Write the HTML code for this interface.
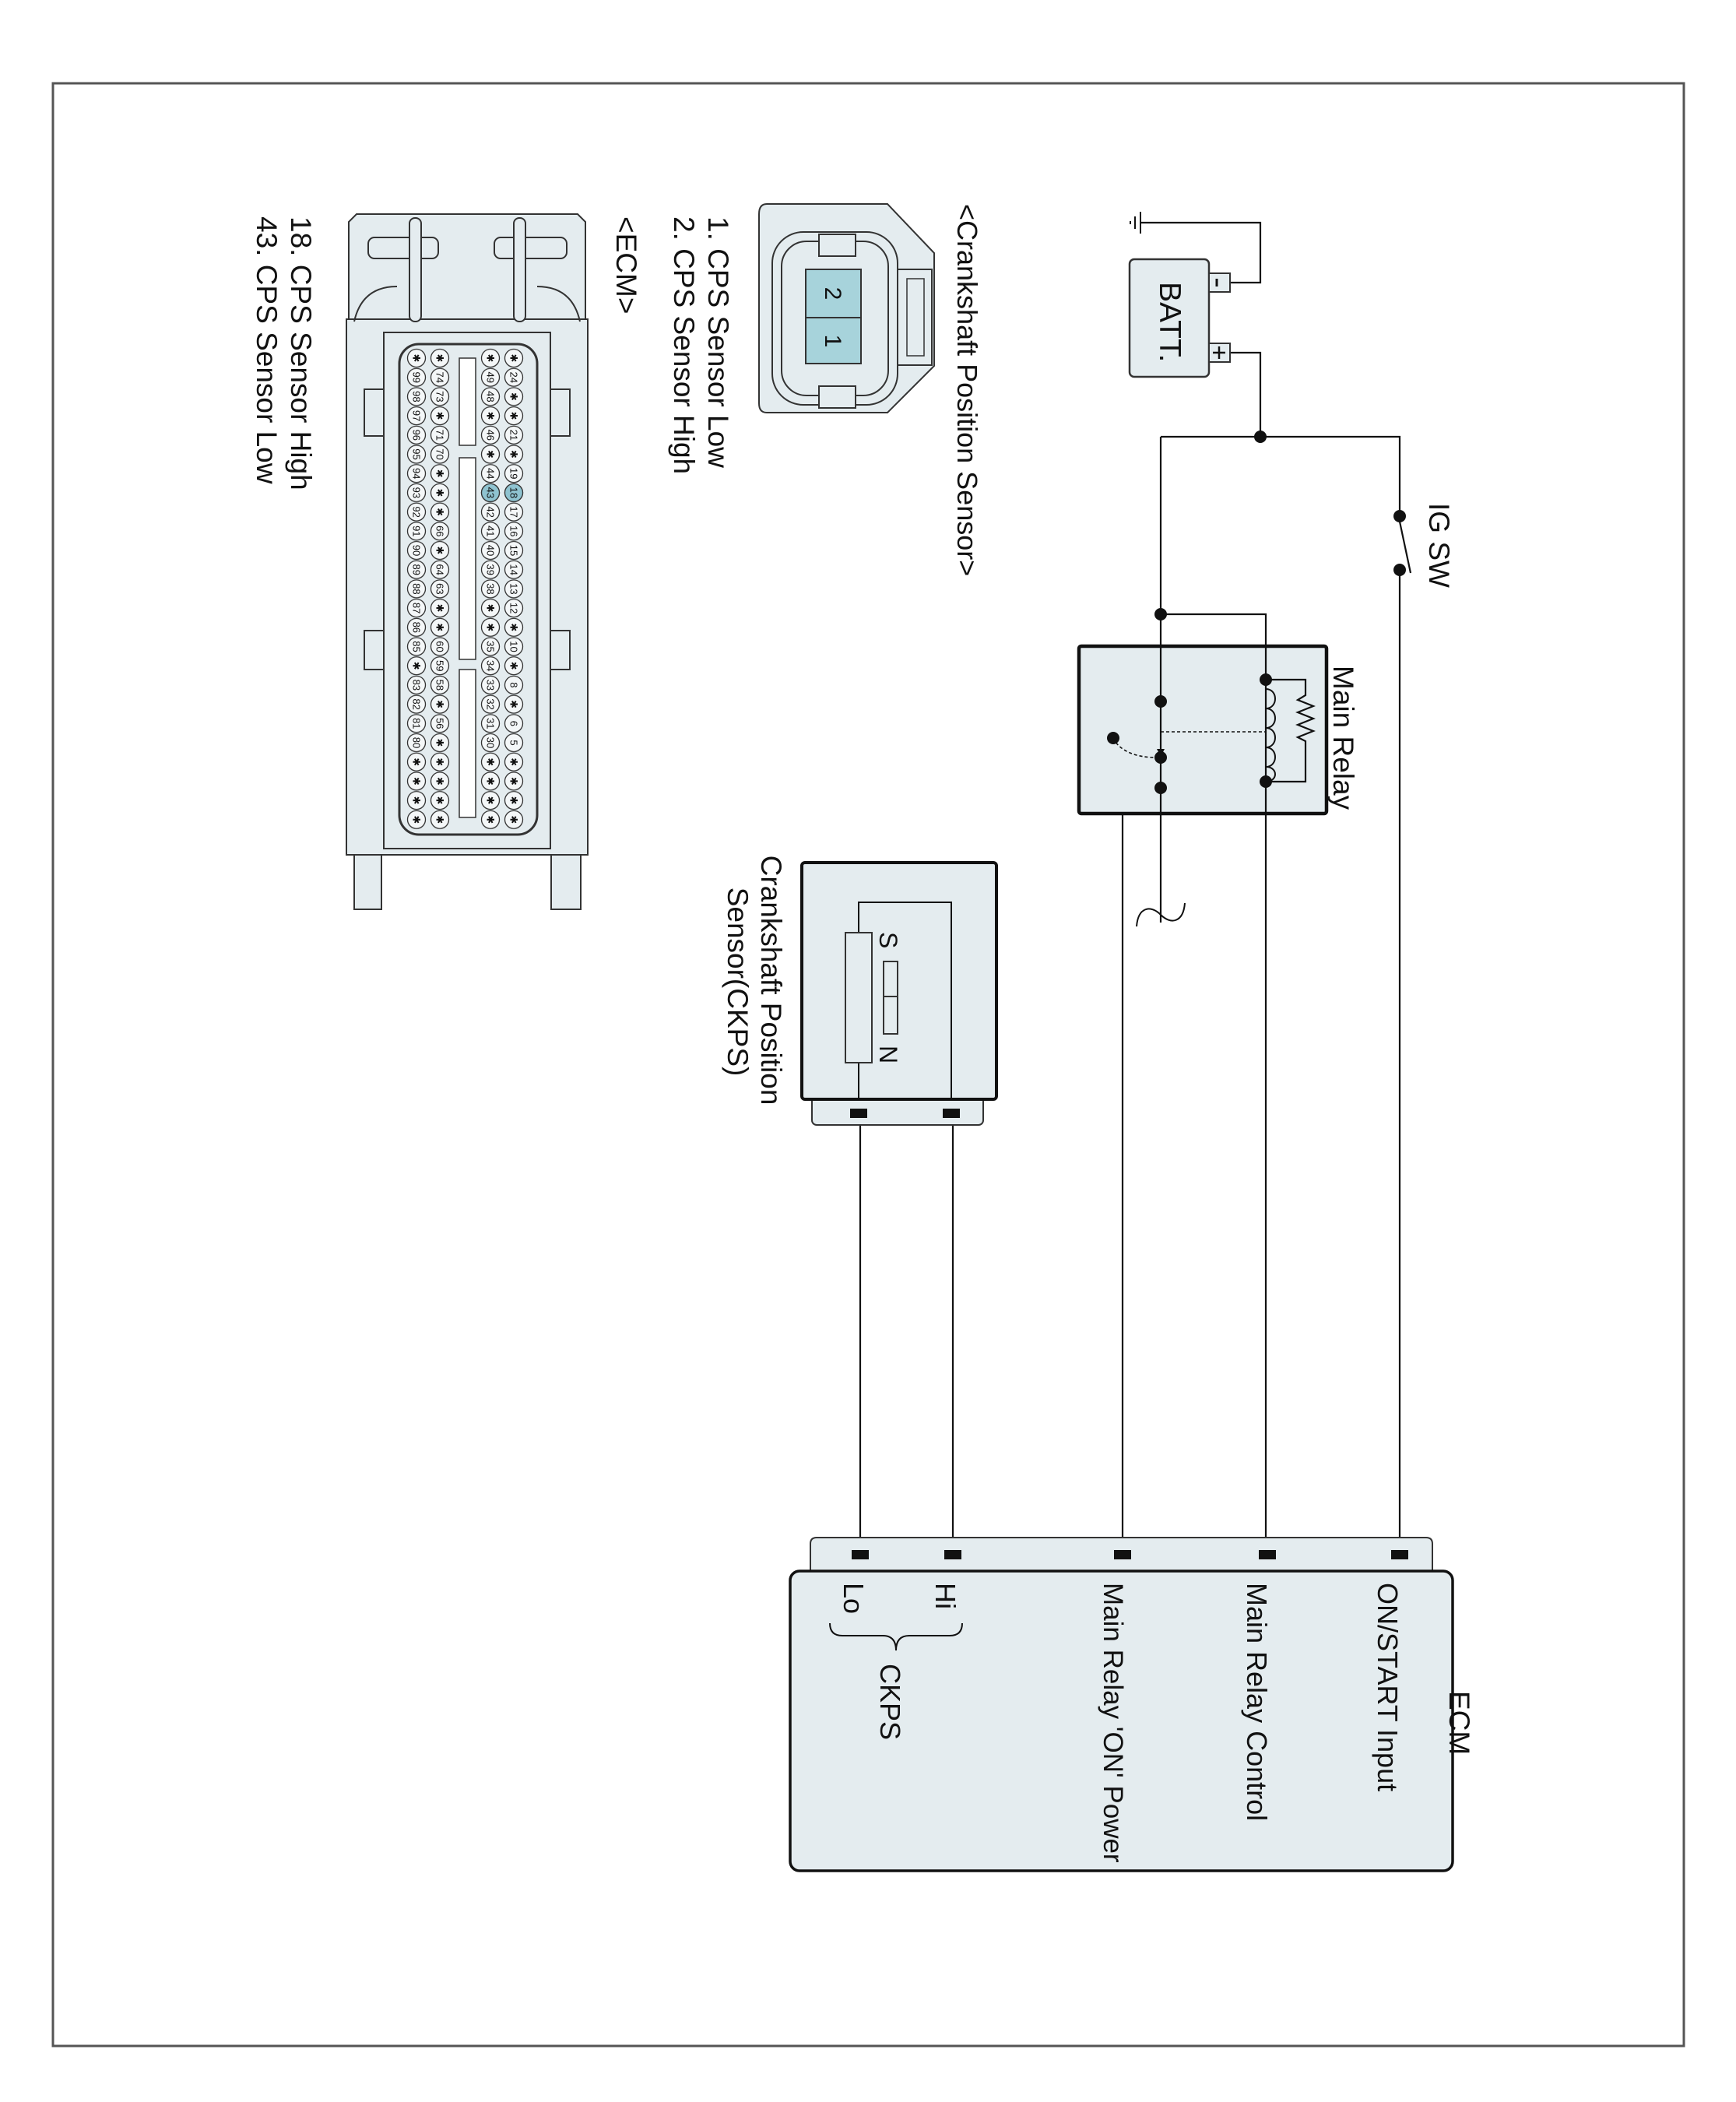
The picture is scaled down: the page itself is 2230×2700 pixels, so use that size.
<!DOCTYPE html>
<html><head><meta charset="utf-8"><style>
html,body{margin:0;padding:0;background:#fff}
svg{display:block}
text{font-family:"Liberation Sans",Arial,sans-serif;fill:#111}
.pn text{font-size:13px;text-anchor:middle;dominant-baseline:central}
</style></head><body>
<svg width="2230" height="2700" viewBox="0 0 2230 2700" xmlns="http://www.w3.org/2000/svg">
<defs>
<pattern id="p1" x="515" y="447.65" width="40" height="24.7" patternUnits="userSpaceOnUse"><circle cx="20" cy="12.35" r="11.5" fill="#f4f7f8" stroke="#333" stroke-width="1.3"/></pattern>
<pattern id="p2" x="545" y="447.65" width="40" height="24.7" patternUnits="userSpaceOnUse"><circle cx="20" cy="12.35" r="11.5" fill="#f4f7f8" stroke="#333" stroke-width="1.3"/></pattern>
<pattern id="p3" x="610" y="447.65" width="40" height="24.7" patternUnits="userSpaceOnUse"><circle cx="20" cy="12.35" r="11.5" fill="#f4f7f8" stroke="#333" stroke-width="1.3"/></pattern>
<pattern id="p4" x="640" y="447.65" width="40" height="24.7" patternUnits="userSpaceOnUse"><circle cx="20" cy="12.35" r="11.5" fill="#f4f7f8" stroke="#333" stroke-width="1.3"/></pattern>
</defs>
<rect x="68" y="107" width="2095" height="2521" fill="#fff" stroke="#555" stroke-width="3"/>

<g stroke="#111" stroke-width="2.2" fill="none">
<path d="M1465,286 H1619 V363 H1580"/>
<path d="M1580,453 H1619 V561"/>
<path d="M1491,561 H1798 V663"/>
<path d="M1798,732 V1997"/>
<path d="M1491,561 V1185"/>
<path d="M1491,789 H1626 V1997"/>
<path d="M1491,1012 H1442 V1997"/>
<path d="M1105,1430 V1997"/>
<path d="M1224,1430 V1997"/>
</g>
<g stroke="#111" stroke-width="2">
<line x1="1465" y1="272" x2="1465" y2="300"/>
<line x1="1458" y1="278" x2="1458" y2="294"/>
<line x1="1452" y1="284" x2="1452" y2="288"/>
</g>
<rect x="1451" y="333" width="102" height="151" rx="6" fill="#e4ecef" stroke="#333" stroke-width="2.5"/>
<rect x="1553" y="351" width="27" height="24" fill="#e4ecef" stroke="#333" stroke-width="2"/>
<rect x="1553" y="441" width="27" height="24" fill="#e4ecef" stroke="#333" stroke-width="2"/>
<line x1="1563" y1="358" x2="1563" y2="368" stroke="#111" stroke-width="3"/>
<path d="M1558,453 H1574 M1566,445 V461" stroke="#111" stroke-width="2.5"/>
<text transform="translate(1490,362) rotate(90)" font-size="39">BATT.</text>

<circle cx="1798" cy="663" r="8" fill="#111"/>
<circle cx="1798" cy="732" r="8" fill="#111"/>
<line x1="1798" y1="670" x2="1812" y2="736" stroke="#111" stroke-width="2.2"/>
<text transform="translate(1836,646) rotate(90)" font-size="37">IG SW</text>
<circle cx="1619" cy="561" r="8" fill="#111"/>
<circle cx="1491" cy="789" r="8" fill="#111"/>

<rect x="1386" y="830" width="318" height="215" fill="#e4ecef" stroke="#111" stroke-width="4.5" rx="3"/>
<g stroke="#111" stroke-width="2.2" fill="none">
<line x1="1491" y1="830" x2="1491" y2="1045"/>
<line x1="1626" y1="830" x2="1626" y2="1045"/>
<path d="M1626,873 H1677 V893 l-10,6 20,8 -20,8 20,8 -20,8 20,8 -20,8 10,5 V1004 H1626"/>
<path d="M1626,885 c16,0 16,25 0,25 c16,0 16,25 0,25 c16,0 16,25 0,25 c16,0 16,25 0,25 c16,0 16,19 0,19" stroke-width="2"/>
<line x1="1491" y1="940" x2="1626" y2="940" stroke-dasharray="4,3" stroke-width="1.6"/>
<path d="M1430,948 C1438,965 1460,973 1485,973" stroke-dasharray="4,3" stroke-width="1.6"/>
</g>
<path d="M1486,962 l5,10 5,-10z" fill="#111"/>
<g fill="#111">
<circle cx="1626" cy="873" r="8"/><circle cx="1626" cy="1004" r="8"/>
<circle cx="1491" cy="901" r="8"/><circle cx="1491" cy="973" r="8"/><circle cx="1491" cy="1012" r="8"/>
<circle cx="1430" cy="948" r="8"/>
</g>
<text transform="translate(1713,855) rotate(90)" font-size="37">Main Relay</text>
<path d="M1460,1190 C1462,1165 1478,1162 1491,1175 C1504,1188 1520,1185 1522,1160" stroke="#111" stroke-width="2" fill="none"/>

<rect x="1043" y="1400" width="220" height="45" rx="6" fill="#e4ecef" stroke="#333" stroke-width="2"/>
<rect x="1030" y="1108" width="250" height="304" rx="4" fill="#e4ecef" stroke="#111" stroke-width="4"/>
<g stroke="#111" stroke-width="2" fill="none">
<path d="M1103,1412 V1159 H1222 V1412"/>
</g>
<rect x="1086" y="1198" width="34" height="167" fill="#e4ecef" stroke="#333" stroke-width="2"/>
<rect x="1135" y="1235" width="18" height="93" fill="#e4ecef" stroke="#333" stroke-width="2"/>
<line x1="1135" y1="1280" x2="1153" y2="1280" stroke="#333" stroke-width="2"/>
<text transform="translate(1130,1197) rotate(90)" font-size="32">S</text>
<text transform="translate(1130,1343) rotate(90)" font-size="32">N</text>
<rect x="1092" y="1424" width="22" height="12" fill="#111"/>
<rect x="1211" y="1424" width="22" height="12" fill="#111"/>
<text transform="translate(978,1259) rotate(90)" font-size="37" text-anchor="middle">Crankshaft Position</text>
<text transform="translate(935,1261) rotate(90)" font-size="37" text-anchor="middle">Sensor(CKPS)</text>

<path d="M1041,2018 V1983 q0,-8 8,-8 H1832 q8,0 8,8 V2018" fill="#e4ecef" stroke="#333" stroke-width="2"/>
<rect x="1015" y="2018" width="851" height="385" rx="12" fill="#e4ecef" stroke="#111" stroke-width="3.5"/>
<g fill="#111">
<rect x="1094" y="1991" width="22" height="12"/>
<rect x="1213" y="1991" width="22" height="12"/>
<rect x="1431" y="1991" width="22" height="12"/>
<rect x="1617" y="1991" width="22" height="12"/>
<rect x="1787" y="1991" width="22" height="12"/>
</g>
<text transform="translate(1862,2172) rotate(90)" font-size="37">ECM</text>
<text transform="translate(1770,2033) rotate(90)" font-size="36">ON/START Input</text>
<text transform="translate(1602,2033) rotate(90)" font-size="36">Main Relay Control</text>
<text transform="translate(1418,2033) rotate(90)" font-size="35">Main Relay 'ON' Power</text>
<text transform="translate(1202,2033) rotate(90)" font-size="36">Hi</text>
<text transform="translate(1084,2033) rotate(90)" font-size="36">Lo</text>
<text transform="translate(1131,2137) rotate(90)" font-size="36">CKPS</text>
<path d="M1066,2085 q0,16 16,16 h52 q17,0 17,19 q0,-19 17,-19 h52 q16,0 16,-16" stroke="#111" stroke-width="2" fill="none"/>

<text transform="translate(1230,262) rotate(90)" font-size="36">&lt;Crankshaft Position Sensor&gt;</text>
<text transform="translate(910,278) rotate(90)" font-size="37">1. CPS Sensor Low</text>
<text transform="translate(866,278) rotate(90)" font-size="37">2. CPS Sensor High</text>
<text transform="translate(792,278) rotate(90)" font-size="37">&lt;ECM&gt;</text>
<text transform="translate(374,278) rotate(90)" font-size="37">18. CPS Sensor High</text>
<text transform="translate(330,278) rotate(90)" font-size="37">43. CPS Sensor Low</text>

<path d="M985,262 H1140 L1200,325 V470 L1140,530 H985 Q975,530 975,518 V275 Q975,262 985,262Z" fill="#e4ecef" stroke="#333" stroke-width="2"/>
<rect x="992" y="298" width="161" height="222" rx="40" fill="#e4ecef" stroke="#333" stroke-width="2"/>
<rect x="1004" y="310" width="137" height="198" rx="32" fill="none" stroke="#333" stroke-width="2"/>
<rect x="1153" y="346" width="44" height="123" fill="#e4ecef" stroke="#333" stroke-width="2"/>
<rect x="1165" y="358" width="22" height="99" fill="none" stroke="#333" stroke-width="1.5"/>
<rect x="1052" y="301" width="47" height="28" fill="#e4ecef" stroke="#333" stroke-width="2"/>
<rect x="1052" y="496" width="47" height="28" fill="#e4ecef" stroke="#333" stroke-width="2"/>
<rect x="1035" y="346" width="71" height="121" fill="#a7d3db" stroke="#333" stroke-width="2"/>
<line x1="1035" y1="408" x2="1106" y2="408" stroke="#333" stroke-width="2"/>
<text transform="translate(1060,377) rotate(90)" font-size="30" text-anchor="middle">2</text>
<text transform="translate(1060,438) rotate(90)" font-size="30" text-anchor="middle">1</text>

<g stroke="#333" stroke-width="2" fill="#e4ecef">
<path d="M448,413 V285 L458,275 H742 L752,285 V413Z"/>
<rect x="445" y="410" width="310" height="688"/>
<rect x="473" y="305" width="90" height="27" rx="8"/>
<rect x="635" y="305" width="93" height="27" rx="8"/>
<rect x="526" y="280" width="15" height="133" rx="7"/>
<rect x="660" y="280" width="15" height="133" rx="7"/>
<path d="M455,413 q10,-45 55,-45" fill="none"/><path d="M745,413 q-10,-45 -55,-45" fill="none"/>
<rect x="493" y="427" width="214" height="663"/>
<rect x="513" y="442" width="177" height="630" rx="25" stroke-width="3"/>
<rect x="468" y="500" width="25" height="60"/><rect x="707" y="500" width="25" height="60"/>
<rect x="468" y="810" width="25" height="50"/><rect x="707" y="810" width="25" height="50"/>
<rect x="455" y="1098" width="35" height="70"/><rect x="708" y="1098" width="38" height="70"/>
</g>
<rect x="515" y="447.65" width="40" height="617.5" fill="url(#p1)"/>
<rect x="545" y="447.65" width="40" height="617.5" fill="url(#p2)"/>
<rect x="610" y="447.65" width="40" height="617.5" fill="url(#p3)"/>
<rect x="640" y="447.65" width="40" height="617.5" fill="url(#p4)"/>
<circle cx="660" cy="632.9" r="11.5" fill="#8fc3d0" stroke="#333" stroke-width="1.3"/>
<circle cx="630" cy="632.9" r="11.5" fill="#8fc3d0" stroke="#333" stroke-width="1.3"/>
<g fill="#fff" stroke="#333" stroke-width="1.5">
<rect x="590" y="460" width="21" height="112"/>
<rect x="590" y="588" width="21" height="259"/>
<rect x="590" y="860" width="21" height="190"/>
</g>
<g class="pn">
<text transform="translate(660,460)rotate(90)">✱</text><text transform="translate(660,484.7)rotate(90)">24</text><text transform="translate(660,509.4)rotate(90)">✱</text><text transform="translate(660,534.1)rotate(90)">✱</text><text transform="translate(660,558.8)rotate(90)">21</text><text transform="translate(660,583.5)rotate(90)">✱</text><text transform="translate(660,608.2)rotate(90)">19</text><text transform="translate(660,632.9)rotate(90)">18</text><text transform="translate(660,657.6)rotate(90)">17</text><text transform="translate(660,682.3)rotate(90)">16</text><text transform="translate(660,707)rotate(90)">15</text><text transform="translate(660,731.7)rotate(90)">14</text><text transform="translate(660,756.4)rotate(90)">13</text><text transform="translate(660,781.1)rotate(90)">12</text><text transform="translate(660,805.8)rotate(90)">✱</text><text transform="translate(660,830.5)rotate(90)">10</text><text transform="translate(660,855.2)rotate(90)">✱</text><text transform="translate(660,879.9)rotate(90)">8</text><text transform="translate(660,904.6)rotate(90)">✱</text><text transform="translate(660,929.3)rotate(90)">6</text><text transform="translate(660,954)rotate(90)">5</text><text transform="translate(660,978.7)rotate(90)">✱</text><text transform="translate(660,1003.4)rotate(90)">✱</text><text transform="translate(660,1028.1)rotate(90)">✱</text><text transform="translate(660,1052.8)rotate(90)">✱</text>
<text transform="translate(630,460)rotate(90)">✱</text><text transform="translate(630,484.7)rotate(90)">49</text><text transform="translate(630,509.4)rotate(90)">48</text><text transform="translate(630,534.1)rotate(90)">✱</text><text transform="translate(630,558.8)rotate(90)">46</text><text transform="translate(630,583.5)rotate(90)">✱</text><text transform="translate(630,608.2)rotate(90)">44</text><text transform="translate(630,632.9)rotate(90)">43</text><text transform="translate(630,657.6)rotate(90)">42</text><text transform="translate(630,682.3)rotate(90)">41</text><text transform="translate(630,707)rotate(90)">40</text><text transform="translate(630,731.7)rotate(90)">39</text><text transform="translate(630,756.4)rotate(90)">38</text><text transform="translate(630,781.1)rotate(90)">✱</text><text transform="translate(630,805.8)rotate(90)">✱</text><text transform="translate(630,830.5)rotate(90)">35</text><text transform="translate(630,855.2)rotate(90)">34</text><text transform="translate(630,879.9)rotate(90)">33</text><text transform="translate(630,904.6)rotate(90)">32</text><text transform="translate(630,929.3)rotate(90)">31</text><text transform="translate(630,954)rotate(90)">30</text><text transform="translate(630,978.7)rotate(90)">✱</text><text transform="translate(630,1003.4)rotate(90)">✱</text><text transform="translate(630,1028.1)rotate(90)">✱</text><text transform="translate(630,1052.8)rotate(90)">✱</text>
<text transform="translate(565,460)rotate(90)">✱</text><text transform="translate(565,484.7)rotate(90)">74</text><text transform="translate(565,509.4)rotate(90)">73</text><text transform="translate(565,534.1)rotate(90)">✱</text><text transform="translate(565,558.8)rotate(90)">71</text><text transform="translate(565,583.5)rotate(90)">70</text><text transform="translate(565,608.2)rotate(90)">✱</text><text transform="translate(565,632.9)rotate(90)">✱</text><text transform="translate(565,657.6)rotate(90)">✱</text><text transform="translate(565,682.3)rotate(90)">66</text><text transform="translate(565,707)rotate(90)">✱</text><text transform="translate(565,731.7)rotate(90)">64</text><text transform="translate(565,756.4)rotate(90)">63</text><text transform="translate(565,781.1)rotate(90)">✱</text><text transform="translate(565,805.8)rotate(90)">✱</text><text transform="translate(565,830.5)rotate(90)">60</text><text transform="translate(565,855.2)rotate(90)">59</text><text transform="translate(565,879.9)rotate(90)">58</text><text transform="translate(565,904.6)rotate(90)">✱</text><text transform="translate(565,929.3)rotate(90)">56</text><text transform="translate(565,954)rotate(90)">✱</text><text transform="translate(565,978.7)rotate(90)">✱</text><text transform="translate(565,1003.4)rotate(90)">✱</text><text transform="translate(565,1028.1)rotate(90)">✱</text><text transform="translate(565,1052.8)rotate(90)">✱</text>
<text transform="translate(535,460)rotate(90)">✱</text><text transform="translate(535,484.7)rotate(90)">99</text><text transform="translate(535,509.4)rotate(90)">98</text><text transform="translate(535,534.1)rotate(90)">97</text><text transform="translate(535,558.8)rotate(90)">96</text><text transform="translate(535,583.5)rotate(90)">95</text><text transform="translate(535,608.2)rotate(90)">94</text><text transform="translate(535,632.9)rotate(90)">93</text><text transform="translate(535,657.6)rotate(90)">92</text><text transform="translate(535,682.3)rotate(90)">91</text><text transform="translate(535,707)rotate(90)">90</text><text transform="translate(535,731.7)rotate(90)">89</text><text transform="translate(535,756.4)rotate(90)">88</text><text transform="translate(535,781.1)rotate(90)">87</text><text transform="translate(535,805.8)rotate(90)">86</text><text transform="translate(535,830.5)rotate(90)">85</text><text transform="translate(535,855.2)rotate(90)">✱</text><text transform="translate(535,879.9)rotate(90)">83</text><text transform="translate(535,904.6)rotate(90)">82</text><text transform="translate(535,929.3)rotate(90)">81</text><text transform="translate(535,954)rotate(90)">80</text><text transform="translate(535,978.7)rotate(90)">✱</text><text transform="translate(535,1003.4)rotate(90)">✱</text><text transform="translate(535,1028.1)rotate(90)">✱</text><text transform="translate(535,1052.8)rotate(90)">✱</text>
</g>
</svg>
</body></html>
